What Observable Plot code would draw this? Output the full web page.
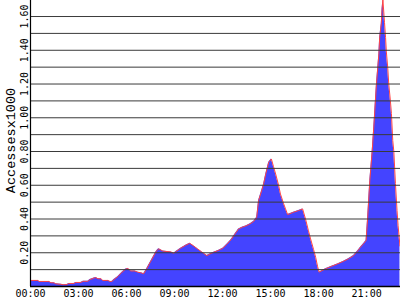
<!DOCTYPE html>
<html>
<head>
<meta charset="utf-8">
<script src="https://cdn.jsdelivr.net/npm/d3@7"></script>
<script src="https://cdn.jsdelivr.net/npm/@observablehq/plot@0.6"></script>
<style>
  html, body { margin: 0; padding: 0; background: white; }
  #chart { width: 400px; height: 300px; overflow: hidden; }
</style>
</head>
<body>
<div id="chart"></div>
<script>
// Sample times (HH:MM) and accesses (x1000)
const times = [
  "00:00","00:28","00:32","01:09","01:17","01:28","01:35","01:54","02:05","02:17",
  "02:24","02:43","02:50","03:09","03:17","03:35","03:43","03:58","04:05","04:13",
  "04:24","04:31","04:50","04:58","05:05","05:13","05:28","05:43","05:57","06:05",
  "06:16","06:31","06:42","06:57","07:04","07:12","07:31","07:50","07:57","08:01",
  "08:16","08:46","08:57","09:08","09:23","09:42","09:57","10:12","10:26","10:42",
  "11:01","11:16","11:27","11:46","12:01","12:16","12:31","12:46","13:00","13:15",
  "13:27","13:42","13:57","14:08","14:15","14:27","14:34","14:42","14:53","15:03",
  "15:11","15:19","15:30","15:37","15:49","15:56","16:04","16:26","16:45","17:00",
  "17:11","17:22","17:30","17:41","17:49","17:56","18:02","18:26","18:49","19:11",
  "19:34","19:52","20:11","20:26","20:37","20:49","20:58","21:04","21:12","21:21",
  "21:27","21:33","21:37","21:42","21:46","21:49","21:55","21:58","22:01","22:07",
  "22:11","22:14","22:19","22:23","22:29","22:33","22:38","22:42","22:48","22:54",
  "22:58","23:05"
];
const accesses = [
  0.036,0.036,0.030,0.030,0.022,0.022,0.016,0.013,0.010,0.012,
  0.018,0.018,0.024,0.024,0.031,0.031,0.041,0.050,0.053,0.046,
  0.046,0.036,0.036,0.030,0.030,0.041,0.060,0.085,0.103,0.107,
  0.092,0.092,0.085,0.080,0.075,0.095,0.150,0.205,0.219,0.223,
  0.210,0.205,0.197,0.210,0.227,0.245,0.256,0.240,0.223,0.205,
  0.183,0.195,0.203,0.215,0.227,0.250,0.276,0.310,0.341,0.352,
  0.359,0.370,0.386,0.410,0.509,0.570,0.608,0.667,0.736,0.756,
  0.710,0.667,0.600,0.548,0.490,0.460,0.426,0.440,0.450,0.460,
  0.400,0.330,0.282,0.220,0.173,0.120,0.085,0.105,0.120,0.134,
  0.150,0.164,0.183,0.210,0.233,0.255,0.272,0.410,0.627,0.805,
  0.946,1.102,1.203,1.300,1.379,1.477,1.557,1.645,1.700,1.566,
  1.477,1.390,1.300,1.200,1.102,1.025,0.865,0.800,0.610,0.450,
  0.360,0.240
];
const xTickLabels = ["00:00","03:00","06:00","09:00","12:00","15:00","18:00","21:00"];
const yTickLabels = ["0.20","0.40","0.60","0.80","1.00","1.20","1.40","1.60"];
const gridValues = [0.1,0.2,0.3,0.4,0.5,0.6,0.7,0.8,0.9,1.0,1.1,1.2,1.3,1.4,1.5,1.6];
const yTitle = "Accessesx1000";
const xEnd = "23:07";

const toMin = s => { const [h, m] = s.split(":").map(Number); return h * 60 + m; };
const data = times.map((t, i) => ({ t: toMin(t), v: accesses[i] }));
const xTicks = xTickLabels.map(toMin);
const yTicks = yTickLabels.map(Number);

const chart = Plot.plot({
  width: 400,
  height: 300,
  marginLeft: 30,
  marginRight: 0,
  marginTop: 0,
  marginBottom: 14,
  x: { domain: [0, toMin(xEnd)], axis: null },
  y: { domain: [0, 1.695], axis: null },
  style: { background: "white", fontFamily: "'DejaVu Sans Mono', monospace", fontSize: "10px", color: "black" },
  marks: [
    Plot.areaY(data, { x: "t", y: "v", fill: "#4444ff", curve: "linear", clip: true }),
    Plot.lineY(data, { x: "t", y: "v", stroke: "#ff4444", strokeWidth: 1, curve: "linear", clip: true }),
    Plot.ruleY(gridValues, { stroke: "#3a3a3a", strokeWidth: 1 }),
    Plot.ruleX([0], { stroke: "black", strokeWidth: 1.2 }),
    Plot.ruleY([0], { stroke: "black", strokeWidth: 1.5 }),
    Plot.text(xTicks, { x: d => d, frameAnchor: "bottom", dy: 7, lineAnchor: "middle", textAnchor: "middle", text: (d, i) => xTickLabels[i], fill: "black", fontSize: 10 }),
    Plot.text(yTicks, { y: d => d, frameAnchor: "left", dx: -6, rotate: -90, textAnchor: "middle", lineAnchor: "middle", text: (d, i) => yTickLabels[i], fill: "black", fontSize: 10 }),
    Plot.text([yTitle], { frameAnchor: "left", dx: -20, dy: -3, rotate: -90, textAnchor: "middle", lineAnchor: "middle", text: d => d, fill: "black", fontSize: 13.5, fontFamily: "'Liberation Mono', monospace" })
  ]
});
document.getElementById("chart").appendChild(chart);
</script>
</body>
</html>
